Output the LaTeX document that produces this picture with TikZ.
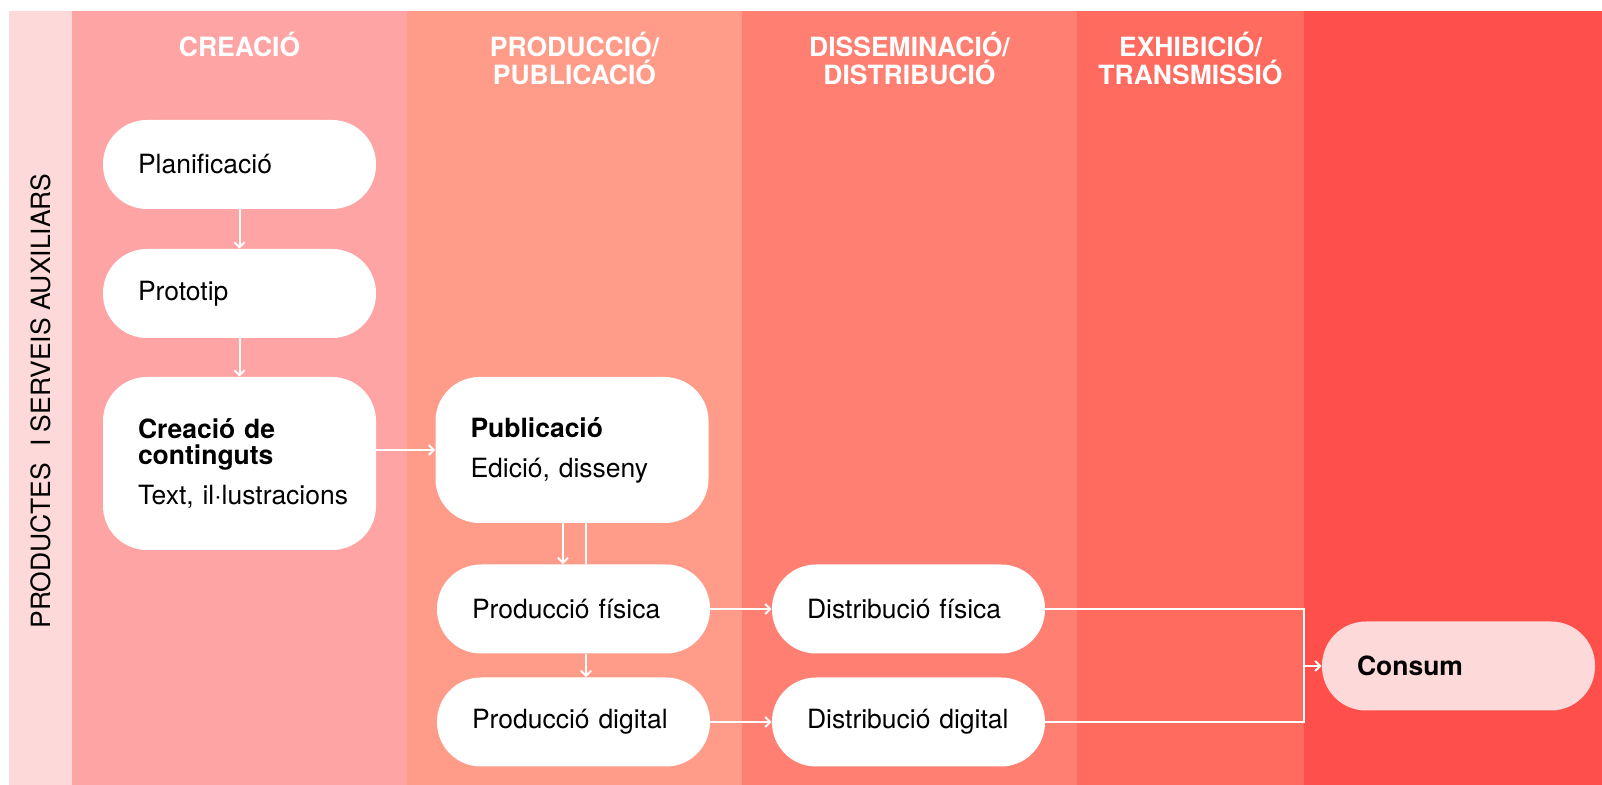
\documentclass[tikz,border=0pt]{standalone}
\usepackage{fontspec}
\setmainfont{TeX Gyre Heros}
\usetikzlibrary{arrows.meta}
\definecolor{auxpink}{HTML}{FDDAD9}
\definecolor{creapink}{HTML}{FFA4A4}
\definecolor{prodpink}{HTML}{FF9B89}
\definecolor{disred}{HTML}{FF7F72}
\definecolor{exhred}{HTML}{FF6B5F}
\definecolor{conred}{HTML}{FF4F4A}

\begin{document}
\begin{tikzpicture}[x=0.5pt, y=-0.5pt,
	box/.style={fill=white, rounded corners=22pt, minimum width=136.5pt, minimum height=44.5pt,
		text width=101.5pt, inner xsep=17.5pt, inner ysep=0pt, align=left,
		font=\fontsize{13.25}{13}\selectfont},
	head/.style={text=white, align=center, anchor=base, font=\fontsize{13.25}{14}\selectfont\bfseries},
	arr/.style={white, line width=1pt, -{Straight Barb[length=2.5pt, width=5pt]}},
	link/.style={white, line width=1pt}]
	\useasboundingbox (0,0) rectangle (1602,785);
	\fill[white] (0,0) rectangle (1602,785);
	% columns
	\fill[auxpink] (9,11) rectangle (72,785);
	\fill[creapink] (72,11) rectangle (407,785);
	\fill[prodpink] (407,11) rectangle (742,785);
	\fill[disred] (742,11) rectangle (1077,785);
	\fill[exhred] (1077,11) rectangle (1304,785);
	\fill[conred] (1304,11) rectangle (1602,785);
	\node[head] (hcrea) at (239.5,57) {CREACIÓ};
	\node[head] (hprod) at (574.5,85) {PRODUCCIÓ/\\PUBLICACIÓ};
	\node[head] (hdis) at (909.5,85) {DISSEMINACIÓ/\\DISTRIBUCIÓ};
	\node[head] (hexh) at (1190.5,85) {EXHIBICIÓ/\\TRANSMISSIÓ};
	\node[rotate=90, font=\fontsize{13.25}{14}\selectfont] (aux) at (41,401) {PRODUCTES\hspace{0.6em}I SERVEIS AUXILIARS};
	% steps
	\node[box] (plan) at (239.5,164.5) {Planificació};
	\node[box] (proto) at (239.5,293.5) {Prototip};
	\node[box, minimum height=86.5pt] (crea) at (239.5,463.5) {\textbf{Creació de}\\\textbf{continguts}\\[7pt]\mbox{Text, il·lustracions}};
	\node[box, minimum height=73pt] (pub) at (572,450) {\textbf{Publicació}\\[7pt]Edició, disseny};
	\node[box] (pfis) at (573.5,609) {Producció física};
	\node[box] (pdig) at (573.5,722) {Producció digital};
	\node[box] (dfis) at (908.5,609) {Distribució física};
	\node[box] (ddig) at (908.5,722) {Distribució digital};
	\node[box, fill=auxpink] (consum) at (1458.5,666) {\textbf{Consum}};
	\coordinate (join) at (1304,666);
	% arrows
	\draw[arr] (plan) -- (proto);
	\draw[arr] (proto) -- (crea);
	\draw[arr] (crea.east |- pub.west) -- (pub.west);
	\draw[arr] ([xshift=-4.5pt]pub.south) -- ([xshift=-4.5pt]pub.south |- pfis.north);
	\draw[link] ([xshift=7pt]pub.south) -- ([xshift=7pt]pub.south |- pfis.north);
	\draw[arr] ([xshift=6.25pt]pfis.south) -- ([xshift=6.25pt]pfis.south |- pdig.north);
	\draw[arr] (pfis) -- (dfis);
	\draw[arr] (pdig) -- (ddig);
	\draw[link] (dfis.east) -| (join);
	\draw[link] (ddig.east) -| (join);
	\draw[arr] (join) -- (consum.west);
\end{tikzpicture}
\end{document}
